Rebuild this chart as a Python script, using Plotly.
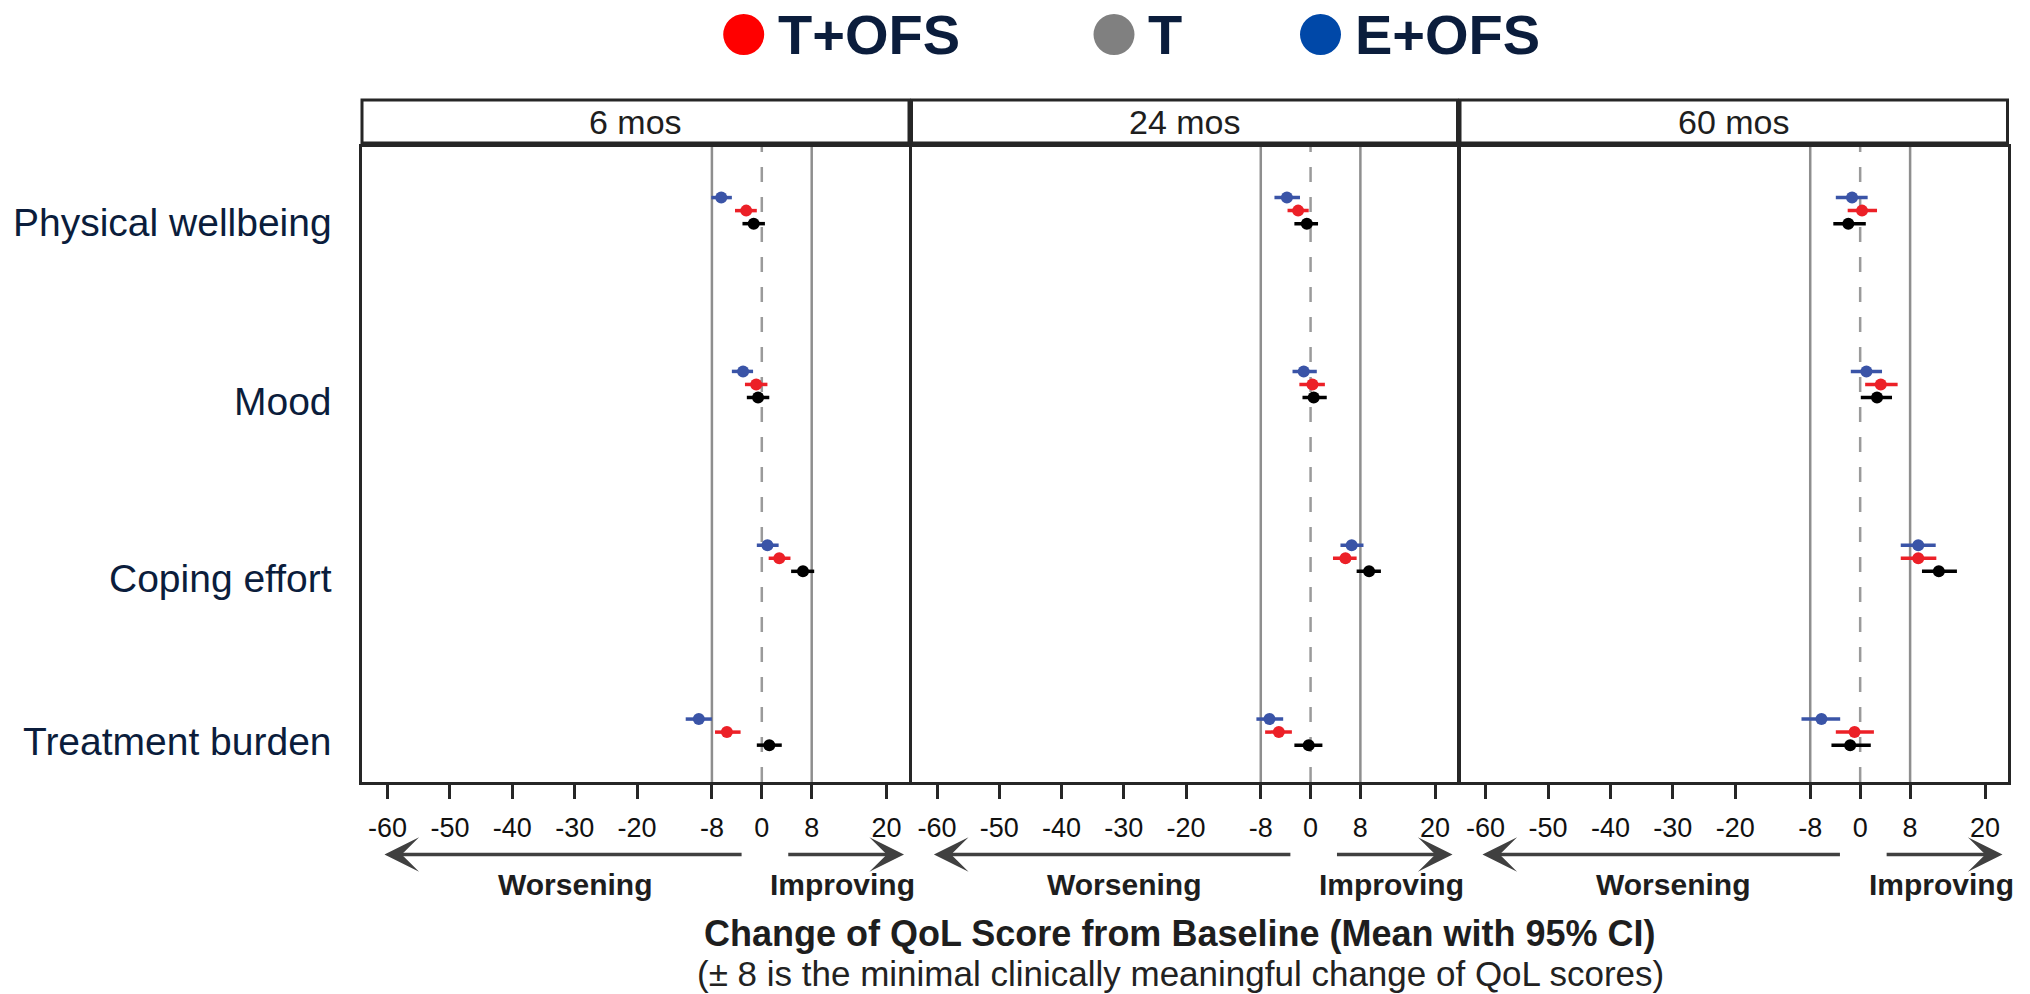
import plotly.graph_objects as go

W, H = 2030, 994

# ---------------- data ----------------
CATEGORIES = ["Physical wellbeing", "Mood", "Coping effort", "Treatment burden"]
TIMEPOINTS = ["6 mos", "24 mos", "60 mos"]
SERIES = ["T+OFS", "T", "E+OFS"]
X_TICKS = [-60, -50, -40, -30, -20, -8, 0, 8, 20]
X_TICK_LABELS = ["-60", "-50", "-40", "-30", "-20", "-8", "0", "8", "20"]

# each list: one row per timepoint (6, 24, 60 mos), values per category
TOFS_MEAN = [[-2.5, -0.9, 2.8, -5.6], [-2.0, 0.3, 5.6, -5.1], [0.3, 3.3, 9.3, -0.9]]
TOFS_LO = [[-4.3, -2.7, 1.1, -7.5], [-3.7, -1.8, 3.6, -7.3], [-2.0, 0.8, 6.5, -3.9]]
TOFS_HI = [[-0.8, 0.9, 4.6, -3.4], [-0.3, 2.3, 7.4, -3.0], [2.7, 6.0, 12.2, 2.2]]

T_MEAN = [[-1.3, -0.6, 6.6, 1.2], [-0.6, 0.5, 9.4, -0.3], [-1.9, 2.7, 12.6, -1.6]]
T_LO = [[-3.1, -2.4, 4.7, -0.8], [-2.6, -1.3, 7.4, -2.6], [-4.3, 0.1, 9.9, -4.6]]
T_HI = [[0.5, 1.2, 8.4, 3.2], [1.2, 2.6, 11.3, 1.9], [0.9, 5.1, 15.5, 1.7]]

EOFS_MEAN = [[-6.5, -3.0, 0.9, -10.1], [-3.8, -1.1, 6.6, -6.6], [-1.3, 1.0, 9.3, -6.2]]
EOFS_LO = [[-8.1, -4.8, -0.8, -12.2], [-5.8, -2.9, 4.8, -8.7], [-3.9, -1.5, 6.5, -9.4]]
EOFS_HI = [[-4.8, -1.4, 2.7, -8.0], [-1.7, 1.0, 8.5, -4.4], [1.2, 3.5, 12.1, -3.2]]

# ---------------- helpers / styles ----------------
def PX(p):
    return p / W


def PY(p):
    return 1 - p / H


NAVY = "#0b1d3c"
DARK = "#1e1e1e"
FRAME = "#262626"
X_RANGE = [-64.1, 23.6]
Y_RANGE = [3.287, -0.366]
PANEL_PX = [(362, 909), (911.5, 1457.5), (1460, 2007.5)]
Y_DOMAIN = [PY(782), PY(147)]

series_style = {
    "E+OFS": dict(color="#3a54a7", offset=-0.075, mean=EOFS_MEAN, lo=EOFS_LO, hi=EOFS_HI),
    "T+OFS": dict(color="#ec2027", offset=0.0, mean=TOFS_MEAN, lo=TOFS_LO, hi=TOFS_HI),
    "T": dict(color="#000000", offset=0.075, mean=T_MEAN, lo=T_LO, hi=T_HI),
}

fig = go.Figure()

for k, tp in enumerate(TIMEPOINTS):
    sfx = "" if k == 0 else str(k + 1)
    for name in ["E+OFS", "T+OFS", "T"]:
        st = series_style[name]
        mean = st["mean"][k]
        lo = st["lo"][k]
        hi = st["hi"][k]
        ys = [i + st["offset"] for i in range(len(CATEGORIES))]
        fig.add_trace(go.Scatter(
            x=mean, y=ys, mode="markers", name=name, showlegend=False,
            xaxis="x" + sfx, yaxis="y" + sfx,
            marker=dict(size=12, color=st["color"]),
            error_x=dict(type="data", symmetric=False,
                         array=[h - m for h, m in zip(hi, mean)],
                         arrayminus=[m - l for m, l in zip(mean, lo)],
                         thickness=3.5, width=0, color=st["color"]),
            hovertemplate=name + " %{x}<extra></extra>",
        ))

layout = dict(
    width=W, height=H, autosize=False,
    margin=dict(l=0, r=0, t=0, b=0),
    paper_bgcolor="white", plot_bgcolor="white",
    showlegend=False,
    font=dict(family="Liberation Sans, Arial, sans-serif", color=DARK),
)

shapes = []
annotations = []

for k, (x0p, x1p) in enumerate(PANEL_PX):
    sfx = "" if k == 0 else str(k + 1)
    layout["xaxis" + sfx] = dict(
        domain=[PX(x0p), PX(x1p)], anchor="y" + sfx, range=X_RANGE,
        tickmode="array", tickvals=X_TICKS, ticktext=X_TICK_LABELS,
        ticks="outside", ticklen=14, tickwidth=2.5, tickcolor=FRAME,
        tickfont=dict(family="Liberation Sans, Arial", size=27, color="#111111"),
        ticklabelstandoff=6,
        showline=True, linewidth=3, linecolor=FRAME, mirror=True,
        showgrid=False, zeroline=False, fixedrange=True,
    )
    layout["yaxis" + sfx] = dict(
        domain=Y_DOMAIN, anchor="x" + sfx, range=Y_RANGE,
        showticklabels=False, ticks="",
        showline=True, linewidth=3, linecolor=FRAME, mirror=True,
        showgrid=False, zeroline=False, fixedrange=True,
    )
    xr = "x" + sfx
    ydom = "y" + sfx + " domain"
    # reference lines
    for v in (-8, 8):
        shapes.append(dict(type="line", xref=xr, yref=ydom, x0=v, x1=v, y0=0, y1=1,
                           line=dict(color="#8e8e8e", width=2.5), layer="below"))
    shapes.append(dict(type="line", xref=xr, yref=ydom, x0=0, x1=0, y0=0, y1=1,
                       line=dict(color="#9a9a9a", width=2.5, dash="15px,15px"), layer="below"))
    # strip header
    shapes.append(dict(type="rect", xref=xr + " domain", yref="paper", x0=0, x1=1,
                       y0=PY(143), y1=PY(100), line=dict(color=FRAME, width=3),
                       fillcolor="white"))
    annotations.append(dict(text=TIMEPOINTS[k], xref=xr + " domain", yref="paper",
                            x=0.5, y=PY(122), xanchor="center", yanchor="middle",
                            showarrow=False,
                            font=dict(family="Liberation Sans, Arial", size=34, color=DARK)))
    # direction arrows
    ay_paper = PY(854.5)
    annotations.append(dict(text="", xref=xr, yref="paper", x=-60.5, y=ay_paper,
                            axref=xr, ax=-3, ayref="pixel", ay=0, showarrow=True,
                            arrowhead=3, arrowsize=1.75, arrowwidth=3.3, arrowcolor="#404040"))
    annotations.append(dict(text="", xref=xr, yref="paper", x=22.8, y=ay_paper,
                            axref=xr, ax=4, ayref="pixel", ay=0, showarrow=True,
                            arrowhead=3, arrowsize=1.75, arrowwidth=3.3, arrowcolor="#404040"))
    annotations.append(dict(text="<b>Worsening</b>", xref=xr, yref="paper", x=-30, y=PY(884),
                            xanchor="center", yanchor="middle", showarrow=False,
                            font=dict(family="Liberation Sans, Arial", size=30, color=DARK)))
    annotations.append(dict(text="<b>Improving</b>", xref=xr, yref="paper", x=13, y=PY(884),
                            xanchor="center", yanchor="middle", showarrow=False,
                            font=dict(family="Liberation Sans, Arial", size=30, color=DARK)))

# category labels
LABEL_Y_PX = [222.5, 401, 578, 741]
for lab, yp in zip(CATEGORIES, LABEL_Y_PX):
    annotations.append(dict(text=lab, xref="paper", yref="paper", x=PX(334), y=PY(yp),
                            xanchor="right", yanchor="middle", showarrow=False,
                            font=dict(family="Liberation Sans, Arial", size=39, color=NAVY)))

# axis title and note
annotations.append(dict(text="<b>Change of QoL Score from Baseline (Mean with 95% CI)</b>",
                        xref="paper", yref="paper", x=PX(1180), y=PY(933),
                        xanchor="center", yanchor="middle", showarrow=False,
                        font=dict(family="Liberation Sans, Arial", size=36, color=DARK)))
annotations.append(dict(text="(\u00b1 8 is the minimal clinically meaningful change of QoL scores)",
                        xref="paper", yref="paper", x=PX(1180), y=PY(973),
                        xanchor="center", yanchor="middle", showarrow=False,
                        font=dict(family="Liberation Sans, Arial", size=35, color="#222222")))

# legend (dots + labels)
legend_items = [("T+OFS", "#ff0000", 743.7), ("T", "#808080", 1114), ("E+OFS", "#0048a8", 1320.5)]
for name, col, cx in legend_items:
    r = 20.5
    shapes.append(dict(type="circle", xref="paper", yref="paper",
                       x0=PX(cx - r), x1=PX(cx + r), y0=PY(34.5 + r), y1=PY(34.5 - r),
                       fillcolor=col, line=dict(width=0)))
    annotations.append(dict(text="<b>" + name + "</b>", xref="paper", yref="paper",
                            x=PX(cx + 32), y=PY(34.5), xanchor="left", yanchor="middle",
                            showarrow=False,
                            font=dict(family="Liberation Sans, Arial", size=56, color=NAVY)))

layout["shapes"] = shapes
layout["annotations"] = annotations
fig.update_layout(**layout)

fig.write_html("out.html", config={"displayModeBar": False})
